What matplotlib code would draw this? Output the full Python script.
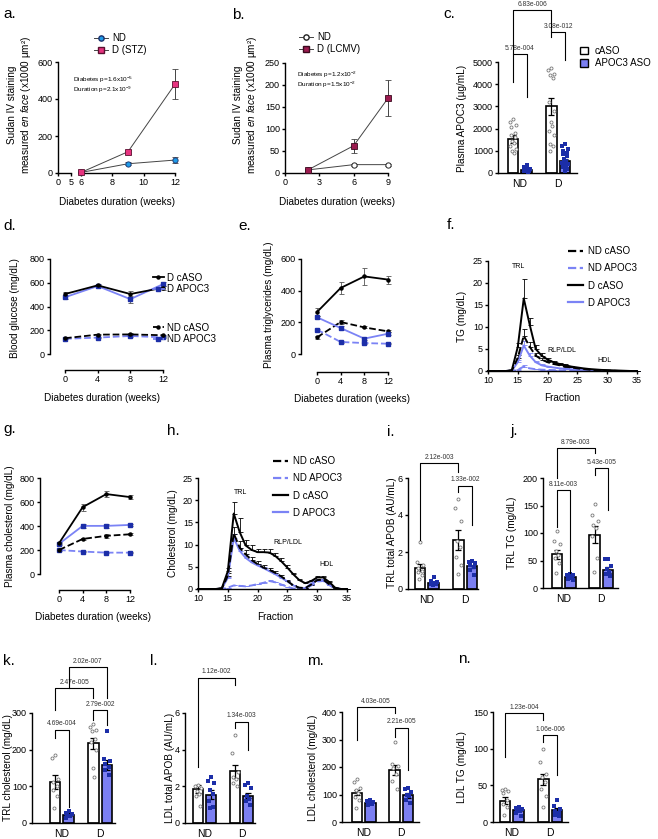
import numpy as np
import matplotlib
matplotlib.use('Agg')
import matplotlib.pyplot as plt
from matplotlib.lines import Line2D
from matplotlib.patches import Patch

plt.rcParams['font.family'] = ['Liberation Sans', 'DejaVu Sans']
plt.rcParams['mathtext.fontset'] = 'custom'
plt.rcParams['mathtext.rm'] = 'Liberation Sans'
plt.rcParams['mathtext.it'] = 'Liberation Sans:italic'
plt.rcParams['axes.linewidth'] = 1.0

# ---------------- data ----------------
# a: Sudan IV, STZ model
a_weeks = [6, 9, 12]
a_nd = [3, 50, 70]
a_nd_err = [3, 8, 18]
a_d = [3, 115, 480]
a_d_err = [3, 10, 80]

# b: Sudan IV, LCMV model
b_weeks = [2, 6, 9]
b_nd = [7, 19, 19]
b_nd_err = [2, 2, 2]
b_d = [7, 62, 170]
b_d_err = [3, 16, 41]

groups = ['ND', 'D']
series4 = ['ND cASO', 'ND APOC3', 'D cASO', 'D APOC3']

# c: plasma APOC3
c_means = [1530, 150, 3000, 530]
c_sem = [160, 25, 380, 100]
c_pts = [[2450, 2300, 2150, 2050, 1800, 1700, 1600, 1450, 1350, 1200, 1100, 1000, 900],
         [350, 250, 200, 180, 160, 150, 130, 120, 110, 100, 90, 80, 60],
         [4750, 4650, 4450, 4400, 4300, 3200, 2800, 2300, 2100, 1900, 1700, 1300, 1200, 1000],
         [1300, 1200, 1100, 1000, 900, 850, 750, 650, 550, 450, 400, 350, 300, 250, 200, 150, 100]]

# d, e, g: time courses
weeks = [0, 4, 8, 12]
d_vals = {'D cASO': [505, 578, 505, 558], 'D APOC3': [478, 572, 462, 588],
          'ND cASO': [133, 163, 165, 158], 'ND APOC3': [128, 138, 152, 140]}
d_err = {'D cASO': [15, 10, 25, 15], 'D APOC3': [15, 10, 30, 15],
         'ND cASO': [5, 5, 8, 5], 'ND APOC3': [5, 5, 5, 5]}
e_vals = {'D cASO': [265, 417, 490, 470], 'D APOC3': [232, 164, 97, 128],
          'ND cASO': [105, 202, 168, 143], 'ND APOC3': [154, 76, 69, 65]}
e_err = {'D cASO': [25, 38, 55, 25], 'D APOC3': [10, 10, 10, 10],
         'ND cASO': [8, 12, 6, 6], 'ND APOC3': [6, 4, 4, 3]}
g_vals = {'D cASO': [256, 557, 666, 641], 'D APOC3': [251, 401, 401, 409],
          'ND cASO': [200, 292, 318, 331], 'ND APOC3': [200, 187, 178, 178]}
g_err = {'D cASO': [10, 30, 22, 15], 'D APOC3': [10, 18, 15, 10],
         'ND cASO': [5, 12, 15, 8], 'ND APOC3': [4, 4, 4, 4]}

# f, h: FPLC profiles
fractions = list(range(10, 36))
f_vals = {
    'ND cASO': [0, 0, 0, 0, 0.1, 3.0, 8.0, 5.5, 3.5, 2.6, 2.0, 1.6, 1.3, 1.0, 0.8, 0.6, 0.45, 0.3, 0.2, 0.15, 0.1, 0.05, 0, 0, 0, 0],
    'ND APOC3': [0, 0, 0, 0, 0, 0.3, 1.0, 0.6, 0.4, 0.3, 0.25, 0.2, 0.15, 0.1, 0.1, 0.05, 0, 0, 0, 0, 0, 0, 0, 0, 0, 0],
    'D cASO': [0, 0, 0, 0, 0.2, 5.5, 16.5, 10.5, 5.0, 3.5, 2.6, 2.0, 1.6, 1.3, 1.0, 0.8, 0.6, 0.45, 0.35, 0.25, 0.2, 0.15, 0.1, 0.05, 0, 0],
    'D APOC3': [0, 0, 0, 0, 0.1, 2.0, 5.8, 3.5, 2.0, 1.3, 1.0, 0.8, 0.6, 0.5, 0.4, 0.3, 0.2, 0.15, 0.1, 0.05, 0, 0, 0, 0, 0, 0]}
f_err = {
    'ND cASO': [0, 0, 0, 0, 0, 0.6, 1.6, 1.0, 0.6, 0.4, 0.3, 0.2, 0.2, 0.1, 0.1, 0, 0, 0, 0, 0, 0, 0, 0, 0, 0, 0],
    'ND APOC3': [0, 0, 0, 0, 0, 0.1, 0.3, 0.1, 0, 0, 0, 0, 0, 0, 0, 0, 0, 0, 0, 0, 0, 0, 0, 0, 0, 0],
    'D cASO': [0, 0, 0, 0, 0, 0.8, 4.3, 1.6, 0.8, 0.6, 0.4, 0.3, 0.2, 0.2, 0.1, 0.1, 0.1, 0, 0, 0, 0, 0, 0, 0, 0, 0],
    'D APOC3': [0, 0, 0, 0, 0, 0.4, 1.0, 0.5, 0.3, 0.2, 0.1, 0.1, 0, 0, 0, 0, 0, 0, 0, 0, 0, 0, 0, 0, 0, 0]}
h_vals = {
    'ND cASO': [0, 0, 0, 0, 0.1, 3.0, 12.5, 9.3, 7.8, 6.5, 5.6, 4.8, 4.3, 3.6, 2.8, 1.8, 0.8, 0.3, 0.2, 1.0, 2.0, 2.1, 1.1, 0.2, 0, 0],
    'ND APOC3': [0, 0, 0, 0, 0, 0.3, 0.8, 0.7, 0.6, 0.8, 1.1, 1.4, 1.8, 1.5, 1.0, 0.5, 0.1, 0, 0, 0.8, 1.7, 1.8, 0.9, 0.1, 0, 0],
    'D cASO': [0, 0, 0, 0, 0.2, 4.0, 17.0, 12.8, 9.8, 8.8, 8.3, 8.3, 8.2, 7.4, 6.2, 4.8, 3.3, 2.0, 1.3, 1.8, 2.6, 2.6, 1.6, 0.3, 0, 0],
    'D APOC3': [0, 0, 0, 0, 0.1, 2.5, 11.5, 8.6, 7.0, 6.0, 5.3, 4.7, 4.0, 3.3, 2.5, 1.7, 0.8, 0.2, 0.2, 1.2, 2.0, 2.0, 1.0, 0.2, 0, 0]}
h_err = {
    'ND cASO': [0, 0, 0, 0, 0, 0.5, 1.5, 1.4, 1.0, 0.8, 0.6, 0.5, 0.5, 0.4, 0.3, 0.2, 0.1, 0, 0, 0.1, 0.2, 0.2, 0.1, 0, 0, 0],
    'ND APOC3': [0, 0, 0, 0, 0, 0, 0.2, 0.1, 0.1, 0.1, 0.1, 0.1, 0.2, 0.1, 0.1, 0, 0, 0, 0, 0, 0.1, 0.1, 0, 0, 0, 0],
    'D cASO': [0, 0, 0, 0, 0, 0.8, 2.5, 3.3, 1.3, 1.0, 0.8, 0.8, 0.8, 0.8, 0.7, 0.6, 0.4, 0.3, 0.2, 0.2, 0.3, 0.3, 0.2, 0, 0, 0],
    'D APOC3': [0, 0, 0, 0, 0, 0.3, 1.0, 0.6, 0.4, 0.3, 0.3, 0.2, 0.2, 0.2, 0.1, 0.1, 0, 0, 0, 0.1, 0.1, 0.1, 0, 0, 0, 0]}

# i-n: lipoprotein fractions (ND cASO, ND APOC3, D cASO, D APOC3)
i_means = [1.15, 0.35, 2.65, 1.22]
i_sem = [0.2, 0.05, 0.55, 0.1]
i_pts = [[2.55, 1.45, 1.3, 1.15, 1.0, 0.9, 0.75, 0.55],
         [0.65, 0.45, 0.4, 0.35, 0.3, 0.28, 0.25, 0.2],
         [4.85, 4.4, 3.65, 2.6, 2.25, 1.75, 1.3, 0.8],
         [1.5, 1.45, 1.4, 1.3, 1.2, 1.05, 0.75]]
j_means = [61, 20, 97, 33]
j_sem = [9, 2.5, 15, 5]
j_pts = [[103, 85, 80, 68, 60, 55, 45, 28],
         [25, 24, 23, 21, 19, 17, 15],
         [153, 132, 122, 115, 110, 95, 55, 30],
         [53, 52, 40, 35, 30, 26, 22]]
k_means = [112, 22, 217, 158]
k_sem = [18, 4, 15, 13]
k_pts = [[185, 178, 120, 112, 100, 90, 75, 42],
         [32, 28, 25, 22, 18, 15],
         [270, 262, 255, 250, 228, 222, 200, 150, 125],
         [250, 175, 168, 160, 152, 145, 130]]
l_means = [1.85, 1.55, 2.82, 1.5]
l_sem = [0.2, 0.25, 0.35, 0.15]
l_pts = [[2.05, 2.0, 1.9, 1.75, 1.6, 1.5, 0.95],
         [2.5, 2.3, 2.2, 1.8, 1.6, 1.2, 0.9, 0.8],
         [4.8, 3.8, 2.8, 2.5, 2.4, 2.2, 2.0],
         [2.2, 2.1, 1.9, 1.5, 1.3, 1.2, 1.0]]
m_means = [107, 70, 190, 97]
m_sem = [10, 3, 18, 8]
m_pts = [[155, 145, 122, 115, 105, 90, 80, 50],
         [80, 76, 72, 70, 66, 62],
         [290, 210, 205, 195, 175, 150, 120],
         [125, 120, 110, 100, 95, 80, 70]]
n_means = [29, 17, 58, 16]
n_sem = [5, 2, 7, 3]
n_pts = [[45, 44, 42, 40, 30, 25, 20, 10],
         [20, 19, 18, 16, 15, 12, 8],
         [100, 82, 65, 62, 55, 45, 35, 20],
         [30, 22, 18, 15, 12, 10, 8]]

# ---------------- style ----------------
BLUE_LINE = '#7b83f5'
BLUE_DARK = '#1c2ea8'
BAR_BLUE = '#7b7ff2'
TICK = 6.5
LAB = 7.2

W, H = 658, 839
fig = plt.figure(figsize=(W / 100, H / 100), dpi=100)


def box(x0, y0, x1, y1):
    return fig.add_axes([x0 / W, 1 - y1 / H, (x1 - x0) / W, (y1 - y0) / H])


def style(ax):
    for s in ['top', 'right']:
        ax.spines[s].set_visible(False)
    ax.tick_params(labelsize=TICK, length=2.5, width=1, pad=1.2)


def ftext(x, y, s, **kw):
    fig.text(x / W, 1 - y / H, s, **kw)


def letter(x, y, s):
    ftext(x, y, s, fontsize=11, va='baseline', ha='left')


def ylab(x, y, s):
    ftext(x, y, s, fontsize=LAB, rotation=90, ha='center', va='center', multialignment='center')


def xlab(x, y, s):
    ftext(x, y, s, fontsize=LAB, ha='center', va='center')


line_style = {
    'D cASO': dict(color='black', ls='-', marker='o', mfc='black', mec='black'),
    'D APOC3': dict(color=BLUE_LINE, ls='-', marker='s', mfc=BLUE_DARK, mec=BLUE_DARK),
    'ND cASO': dict(color='black', ls='--', marker='o', mfc='black', mec='black'),
    'ND APOC3': dict(color=BLUE_LINE, ls='--', marker='s', mfc=BLUE_DARK, mec=BLUE_DARK),
}


def time_panel(rect, off_left, off_bottom, ymax, yticks, vals, errs):
    ax = box(*rect)
    style(ax)
    for name in ['ND APOC3', 'ND cASO', 'D APOC3', 'D cASO']:
        st = line_style[name]
        ax.errorbar(weeks, vals[name], yerr=errs[name], color=st['color'], ls=st['ls'], lw=1.3,
                    marker=st['marker'], ms=2.2, mfc=st['mfc'], mec=st['mec'],
                    ecolor='#555555', elinewidth=0.6, capsize=1.8, capthick=0.6, clip_on=False)
    ax.set_xlim(0, 12)
    ax.set_ylim(0, ymax)
    ax.set_xticks([0, 4, 8, 12])
    ax.set_yticks(yticks)
    ax.spines['left'].set_position(('outward', off_left * 0.72))
    ax.spines['bottom'].set_position(('outward', off_bottom * 0.72))
    return ax


def profile_panel(rect, vals, errs):
    ax = box(*rect)
    style(ax)
    for name in ['D APOC3', 'ND APOC3', 'ND cASO', 'D cASO']:
        st = line_style[name]
        y = np.array(vals[name])
        e = np.array(errs[name])
        ax.errorbar(fractions, y, yerr=[np.zeros_like(e), e], color=st['color'], ls=st['ls'], lw=1.4,
                    ecolor=st['color'], elinewidth=0.6, capsize=1.8, capthick=0.6, clip_on=False)
    ax.set_xlim(10, 35)
    ax.set_ylim(0, 25)
    ax.set_xticks(range(10, 36, 5))
    ax.set_yticks(range(0, 26, 5))
    return ax


def profile_legend(ax, x, y):
    hs = [Line2D([], [], lw=1.6, **{k: v for k, v in line_style[n].items() if k in ('color', 'ls')})
          for n in series4]
    ax.legend(hs, series4, loc='upper left', bbox_to_anchor=(x / W, 1 - y / H),
              bbox_transform=fig.transFigure, frameon=False, fontsize=7, handlelength=1.5,
              handletextpad=0.6, labelspacing=0.75, borderpad=0, borderaxespad=0)


POS = np.array([0, 1, 2.8, 3.8])
SPREAD = np.array([0, -1, 1, -0.5, 0.5, -0.75, 0.75, -0.25, 0.25, -0.9, 0.9, -0.4, 0.4, -0.6, 0.6, -0.1, 0.1])


def bar_panel(x0, ytop, ybot, x1, first, last, ymax, yticks, means, sems, pts):
    ax = box(x0, ytop, x1, ybot)
    style(ax)
    u = (last - first) / 3.8
    ax.set_xlim((x0 - first) / u, (x1 - first) / u)
    ax.set_ylim(0, ymax)
    ax.set_yticks(yticks)
    fills = ['white', BAR_BLUE, 'white', BAR_BLUE]
    ax.bar(POS, means, width=0.78, color=fills, edgecolor='black', lw=1.2, zorder=2)
    ax.errorbar(POS, means, yerr=sems, fmt='none', ecolor='black', elinewidth=0.9,
                capsize=2.2, capthick=0.9, zorder=3)
    for k, p in enumerate(pts):
        xs = POS[k] + SPREAD[:len(p)] * 0.22
        if k % 2 == 0:
            ax.plot(xs, p, 'o', ms=2.2, mfc='white', mec='#777777', mew=0.6, zorder=4, clip_on=False)
        else:
            ax.plot(xs, p, 's', ms=2.2, color=BLUE_DARK, mew=0, zorder=4, clip_on=False)
    ax.set_xticks([(POS[0] + POS[1]) / 2, (POS[2] + POS[3]) / 2])
    ax.set_xticklabels(groups, fontsize=7.5)
    ax.tick_params(axis='x', length=0, pad=4)
    return ax


def bracket(ax, i1, i2, top, b1, b2, s):
    xa, xb = POS[i1], POS[i2]
    ax.plot([xa, xa, xb, xb], [b1, top, top, b2], color='black', lw=0.8, clip_on=False, zorder=5)
    ax.annotate(s, ((xa + xb) / 2, top), xytext=(0, 1.8), textcoords='offset points',
                ha='center', va='bottom', fontsize=4.8, color='#333333', annotation_clip=False)


# ---------------- a ----------------
axa0 = box(58, 62, 71, 173)
axa1 = box(81, 62, 175, 173)
for ax in (axa0, axa1):
    style(ax)
    ax.set_ylim(0, 600)
axa0.set_xlim(0, 5)
axa0.set_xticks([0, 5])
axa0.set_yticks([0, 200, 400, 600])
axa1.set_xlim(6, 12)
axa1.set_xticks([6, 8, 10, 12])
axa1.spines['left'].set_visible(False)
axa1.set_yticks([])
axa1.errorbar(a_weeks, a_nd, yerr=a_nd_err, color='#444444', lw=0.7, marker='o', ms=3.8,
              mfc='#1f9be8', mec='#1a2f6a', mew=0.6, ecolor='#444444', elinewidth=0.7,
              capsize=2, clip_on=False, zorder=3)
axa1.errorbar(a_weeks, a_d, yerr=a_d_err, color='#444444', lw=0.7, marker='s', ms=3.8,
              mfc='#e6337f', mec='#5a1030', mew=0.6, ecolor='#444444', elinewidth=0.7,
              capsize=2, clip_on=False, zorder=3)
axa1.legend([Line2D([], [], color='#444444', lw=0.7, marker='o', ms=3.8, mfc='#1f9be8', mec='#1a2f6a'),
             Line2D([], [], color='#444444', lw=0.7, marker='s', ms=3.8, mfc='#e6337f', mec='#5a1030')],
            ['ND', 'D (STZ)'], loc='upper left', bbox_to_anchor=(94 / W, 1 - 33 / H),
            bbox_transform=fig.transFigure, frameon=False, fontsize=7, handlelength=1.4,
            handletextpad=0.5, labelspacing=0.2, borderpad=0, borderaxespad=0)
ftext(73, 80, 'Diabetes p=1.6x10$^{-5}$', fontsize=4.6, va='center')
ftext(73, 90, 'Duration p=2.1x10$^{-9}$', fontsize=4.6, va='center')
letter(3, 18, 'a.')
ylab(20, 105, 'Sudan IV staining\nmeasured $\\mathit{en\\ face}$ (x1000 µm²)')
xlab(117, 202, 'Diabetes duration (weeks)')

# ---------------- b ----------------
axb = box(285, 63, 388, 173)
style(axb)
axb.set_xlim(0, 9)
axb.set_ylim(0, 250)
axb.set_xticks([0, 3, 6, 9])
axb.set_yticks(range(0, 251, 50))
axb.errorbar(b_weeks, b_nd, yerr=b_nd_err, color='#444444', lw=0.7, marker='o', ms=3.8,
             mfc='white', mec='#222222', mew=0.7, ecolor='#444444', elinewidth=0.7, capsize=2,
             clip_on=False, zorder=3)
axb.errorbar(b_weeks, b_d, yerr=b_d_err, color='#444444', lw=0.7, marker='s', ms=3.8,
             mfc='#9b1b4f', mec='#3a0a1e', mew=0.6, ecolor='#444444', elinewidth=0.7, capsize=2,
             clip_on=False, zorder=3)
axb.legend([Line2D([], [], color='#444444', lw=0.7, marker='o', ms=3.8, mfc='white', mec='#222222'),
            Line2D([], [], color='#444444', lw=0.7, marker='s', ms=3.8, mfc='#9b1b4f', mec='#3a0a1e')],
           ['ND', 'D (LCMV)'], loc='upper left', bbox_to_anchor=(299 / W, 1 - 32 / H),
           bbox_transform=fig.transFigure, frameon=False, fontsize=7, handlelength=1.4,
           handletextpad=0.5, labelspacing=0.2, borderpad=0, borderaxespad=0)
ftext(297, 75, 'Diabetes p=1.2x10$^{-2}$', fontsize=4.6, va='center')
ftext(297, 85, 'Duration p=1.5x10$^{-2}$', fontsize=4.6, va='center')
letter(232, 19, 'b.')
ylab(246, 105, 'Sudan IV staining\nmeasured $\\mathit{en\\ face}$ (x1000 µm²)')
xlab(337, 202, 'Diabetes duration (weeks)')

# ---------------- c ----------------
axc = bar_panel(498, 62, 173, 577, 513, 565, 5000, range(0, 5001, 1000), c_means, c_sem, c_pts)
bracket(axc, 0, 1, 5360, 4100, 3420, '5.78e-004')
bracket(axc, 2, 3, 6350, 6125, 5090, '3.08e-012')
bracket(axc, 0, 2, 7340, 5360, 6350, '6.83e-006')
axc.legend([Patch(facecolor='white', edgecolor='black', lw=1), Patch(facecolor=BAR_BLUE, edgecolor='black', lw=1)],
           ['cASO', 'APOC3 ASO'], loc='upper left', bbox_to_anchor=(580 / W, 1 - 46 / H),
           bbox_transform=fig.transFigure, frameon=False, fontsize=7, handlelength=0.8,
           handleheight=0.8, handletextpad=0.7, labelspacing=0.25, borderpad=0, borderaxespad=0)
letter(443, 18, 'c.')
ylab(462, 118, 'Plasma APOC3 (µg/mL)')

# ---------------- d ----------------
axd = time_panel((65, 259, 163, 354), 15, 16, 800, range(0, 801, 200), d_vals, d_err)


def time_legend(ax, names, x, y):
    hs = []
    for n in names:
        st = line_style[n]
        hs.append(Line2D([], [], color=st['color'], ls=st['ls'], lw=1.3, marker=st['marker'], ms=2.2,
                         mfc=st['mfc'], mec=st['mec']))
    return ax.legend(hs, names, loc='center left', bbox_to_anchor=(x / W, 1 - y / H),
                     bbox_transform=fig.transFigure, frameon=False, fontsize=7, handlelength=1.1,
                     handletextpad=0.35, labelspacing=0.2, borderpad=0, borderaxespad=0)


leg1 = time_legend(axd, ['D cASO', 'D APOC3'], 153, 283.5)
axd.add_artist(leg1)
time_legend(axd, ['ND cASO', 'ND APOC3'], 153, 333.5)
letter(3, 230, 'd.')
ylab(15, 308, 'Blood glucose (mg/dL)')
xlab(102, 398, 'Diabetes duration (weeks)')

# ---------------- e ----------------
axe = time_panel((317, 259, 388, 354), 16, 18, 600, range(0, 601, 200), e_vals, e_err)
letter(238, 230, 'e.')
ylab(269, 305, 'Plasma triglycerides (mg/dL)')
xlab(352, 399, 'Diabetes duration (weeks)')

# ---------------- f ----------------
axf = profile_panel((488, 261, 637, 371), f_vals, f_err)
profile_legend(axf, 568, 246)
ftext(519, 267, 'TRL', fontsize=5, ha='center', va='center')
ftext(562, 351, 'RLP/LDL', fontsize=5, ha='center', va='center')
ftext(604, 361, 'HDL', fontsize=5, ha='center', va='center')
letter(447, 229, 'f.')
ylab(462, 316, 'TG (mg/dL)')
xlab(562, 398, 'Fraction')

# ---------------- g ----------------
axg = time_panel((59, 478, 130, 574), 19, 16, 800, range(0, 801, 200), g_vals, g_err)
letter(3, 433, 'g.')
ylab(10, 526, 'Plasma cholesterol (mg/dL)')
xlab(93, 617, 'Diabetes duration (weeks)')

# ---------------- h ----------------
axh = profile_panel((198, 478, 347, 589), h_vals, h_err)
profile_legend(axh, 273, 456)
ftext(241, 492, 'TRL', fontsize=5, ha='center', va='center')
ftext(288, 543, 'RLP/LDL', fontsize=5, ha='center', va='center')
ftext(327, 565, 'HDL', fontsize=5, ha='center', va='center')
letter(167, 435, 'h.')
ylab(173, 533, 'Cholesterol (mg/dL)')
xlab(275, 617, 'Fraction')

# ---------------- i ----------------
axi = bar_panel(408, 478, 589, 478, 420, 472, 6, [0, 2, 4, 6], i_means, i_sem, i_pts)
bracket(axi, 0, 2, 6.8, 2.65, 6.3, '2.12e-003')
bracket(axi, 2, 3, 5.57, 5.24, 3.46, '1.33e-002')
letter(387, 436, 'i.')
ylab(392, 533, 'TRL total APOB (AU/mL)')

# ---------------- j ----------------
axj = bar_panel(543, 478, 588, 618, 557, 608, 200, range(0, 201, 50), j_means, j_sem, j_pts)
bracket(axj, 0, 2, 254, 200, 245, '8.79e-003')
bracket(axj, 2, 3, 218, 205, 142, '5.43e-005')
bracket(axj, 0, 1, 178, 111, 27, '8.11e-003')
letter(510, 435, 'j.')
ylab(512, 533, 'TRL TG (mg/dL)')

# ---------------- k ----------------
axk = bar_panel(32, 713, 823, 115, 55, 107, 300, range(0, 301, 100), k_means, k_sem, k_pts)
bracket(axk, 0, 1, 254, 232, 44, '4.69e-004')
bracket(axk, 2, 3, 308, 281, 267, '2.79e-002')
bracket(axk, 0, 2, 368, 308, 341, '2.47e-005')
bracket(axk, 1, 3, 425, 368, 341, '2.02e-007')
letter(3, 665, 'k.')
ylab(8, 768, 'TRL cholesterol (mg/dL)')

# ---------------- l ----------------
axl = bar_panel(185, 713, 823, 255, 198, 248, 6, [0, 2, 4, 6], l_means, l_sem, l_pts)
bracket(axl, 0, 2, 7.91, 3.05, 7.53, '1.12e-002')
bracket(axl, 2, 3, 5.51, 5.18, 3.98, '1.34e-003')
letter(150, 665, 'l.')
ylab(170, 768, 'LDL total APOB (AU/mL)')

# ---------------- m ----------------
axm = bar_panel(342, 712, 822, 419, 357, 408, 400, range(0, 401, 100), m_means, m_sem, m_pts)
bracket(axm, 0, 2, 418, 298, 396, '4.03e-005')
bracket(axm, 2, 3, 342, 309, 189, '2.21e-005')
letter(307, 665, 'm.')
ylab(313, 768, 'LDL cholesterol (mg/dL)')

# ---------------- n ----------------
axn = bar_panel(493, 712, 822, 568, 505, 557, 150, [0, 50, 100, 150], n_means, n_sem, n_pts)
bracket(axn, 0, 2, 148.6, 88.6, 139, '1.23e-004')
bracket(axn, 2, 3, 118.6, 109, 64, '1.06e-006')
letter(458, 663, 'n.')
ylab(462, 767, 'LDL TG (mg/dL)')

plt.savefig('out.png', dpi=100)
